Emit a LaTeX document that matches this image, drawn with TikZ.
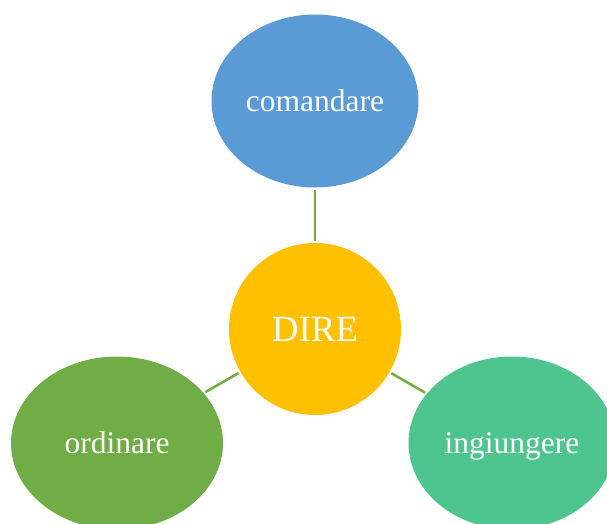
\documentclass[tikz,border=0pt]{standalone}
\usepackage{fontspec}
\setmainfont{Liberation Serif}
\usetikzlibrary{shapes.geometric}
\definecolor{bluecol}{HTML}{5B9BD5}
\definecolor{goldcol}{HTML}{FFC000}
\definecolor{greencol}{HTML}{70AD47}
\definecolor{tealcol}{HTML}{4EC58E}

\begin{document}
\begin{tikzpicture}[x=1pt,y=-1pt,
  bubble/.style={ellipse,fill=#1,text=white,inner sep=0pt,minimum height=173pt,
    text height=24pt,text depth=4pt,font=\fontsize{31.5}{36}\selectfont},
  link/.style={draw=greencol,line width=2.5pt,shorten <=2pt,shorten >=2pt}]
  \useasboundingbox (0,0) rectangle (607,524);
  \node[circle,fill=goldcol,text=white,inner sep=0pt,minimum size=172pt,
    font=\fontsize{37}{42}\selectfont] (dire) at (315,329) {DIRE};
  \foreach \nm/\clr/\px/\py/\ew/\txt in {%
    cmd/bluecol/315/101/207/comandare,%
    ord/greencol/117/443/212/ordinare,%
    ing/tealcol/512/443/207/ingiungere%
  } {
    \node[bubble=\clr,minimum width=\ew pt] (\nm) at (\px,\py) {\txt};
    \draw[link] (dire) -- (\nm);
  }
\end{tikzpicture}
\end{document}
